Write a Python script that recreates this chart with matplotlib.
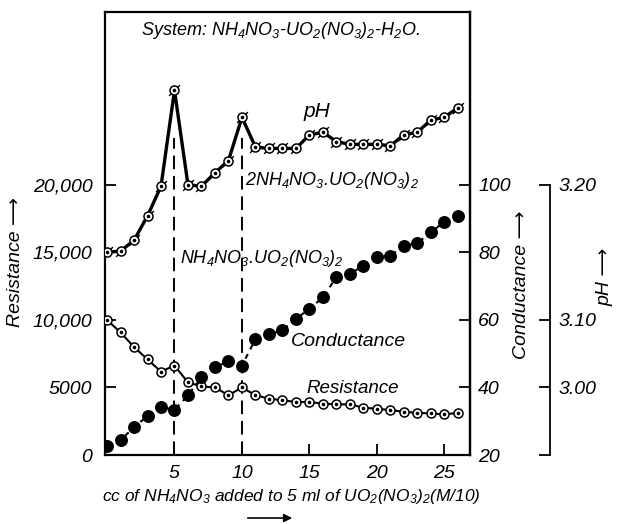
import numpy as np
import matplotlib
matplotlib.use('Agg')
import matplotlib.pyplot as plt
from matplotlib import font_manager as fm

# ---------------- data ----------------
x_cc = list(range(27))
resistance = [10000, 9075, 8000, 7075, 6175, 6625, 5375, 5075, 5000, 4425,
              5000, 4425, 4175, 4050, 3925, 3925, 3800, 3750, 3750, 3500,
              3425, 3325, 3200, 3125, 3075, 3000, 3125]
conductance = [22.7, 24.3, 28.3, 31.5, 34.3, 33.3, 37.7, 43.0, 46.0, 47.7,
               46.5, 54.3, 55.7, 57.0, 60.3, 63.3, 66.7, 72.7, 73.7, 76.0,
               78.5, 79.0, 82.0, 82.7, 86.0, 89.0, 90.7]
ph = [3.150, 3.151, 3.159, 3.177, 3.199, 3.270, 3.200, 3.199, 3.209, 3.218,
      3.250, 3.228, 3.227, 3.227, 3.227, 3.237, 3.239, 3.232, 3.230, 3.230,
      3.230, 3.229, 3.237, 3.239, 3.248, 3.250, 3.257]
compound_x = [5, 10]

x_ticks = [5, 10, 15, 20, 25]
res_ticks = [0, 5000, 10000, 15000, 20000]
res_labels = ['0', '5000', '10,000', '15,000', '20,000']
cond_ticks = [20, 40, 60, 80, 100]
cond_labels = ['20', '40', '60', '80', '100']
ph_ticks = [2.90, 3.00, 3.10, 3.20]
ph_labels = ['', '3.00', '3.10', '3.20']

# ---------------- fonts ----------------
def pick_font(cands):
    for c in cands:
        try:
            fm.findfont(fm.FontProperties(family=c), fallback_to_default=False)
            return c
        except Exception:
            pass
    return 'DejaVu Sans'

FONT = pick_font(['Liberation Sans Narrow', 'DejaVu Sans Condensed', 'Liberation Sans'])
plt.rcParams['font.family'] = [FONT, 'DejaVu Sans']
plt.rcParams['font.style'] = 'italic'
plt.rcParams['mathtext.fontset'] = 'custom'
plt.rcParams['mathtext.rm'] = FONT + ':italic'
plt.rcParams['mathtext.it'] = FONT + ':italic'
FS = 14

# ---------------- figure ----------------
fig = plt.figure(figsize=(6.18, 5.24), dpi=100)
ax = fig.add_axes([105/618, 1-455/524, 365/618, 443/524])
ax.set_xlim(-0.15, 26.9)
ax.set_ylim(0, 32800)

# pH scale (piecewise, as drawn on the original)
def ph_fwd(p):
    p = np.asarray(p, dtype=float)
    return np.where(p >= 3.10, 60 + 400*(p-3.10), 60 + 200*(p-3.10))

def ph_inv(u):
    u = np.asarray(u, dtype=float)
    return np.where(u >= 60, 3.10 + (u-60)/400, 3.10 + (u-60)/200)

ax2 = ax.twinx()
ax2.set_ylim(20, 20 + 32800/250)
ax3 = ax.twinx()
ax3.set_yscale('function', functions=(ph_fwd, ph_inv))
ax3.set_ylim(float(ph_inv(20)), float(ph_inv(20 + 32800/250)))

lw_sp = 1.6
for s in ax.spines.values():
    s.set_linewidth(lw_sp)
for a in (ax2, ax3):
    for k in ('left', 'top', 'bottom'):
        a.spines[k].set_visible(False)
ax2.spines['right'].set_linewidth(lw_sp)
ax3.spines['right'].set_position(('axes', 1 + 80/365))
ax3.spines['right'].set_linewidth(1.3)
ax3.spines['right'].set_bounds(2.90, 3.20)

# ---- compound lines
ax.vlines(compound_x, 0, 23500, colors='black', linestyles=(0, (7, 3.5)), lw=1.4, zorder=1)

# ---- resistance
ax.plot(x_cc, resistance, '-', color='black', lw=1.5, marker='o', ms=6.5,
        mfc='white', mec='black', mew=1.1, zorder=3)
ax.plot(x_cc, resistance, ls='none', marker='o', ms=1.6, color='black', zorder=4)

# ---- conductance
ax2.plot(x_cc, conductance, color='black', lw=1.5, ls=(0, (2.5, 2.5)),
         marker='o', ms=8.3, mfc='black', mec='black', zorder=3)

# ---- pH
ax3.plot(x_cc, ph, '-', color='black', lw=2.4, zorder=2)
ax3.plot(x_cc, ph, ls='none', marker=(2, 0, -45), ms=11, mew=1.0, color='black', zorder=3)
ax3.plot(x_cc, ph, ls='none', marker='o', ms=6.5, mfc='white', mec='black', mew=1.1, zorder=4)
ax3.plot(x_cc, ph, ls='none', marker='o', ms=1.6, color='black', zorder=5)

# ---- ticks
ax.set_xticks(x_ticks)
ax.set_xticklabels([str(v) for v in x_ticks], fontsize=FS)
ax.set_yticks(res_ticks)
ax.set_yticklabels(res_labels, fontsize=FS)
ax.tick_params(axis='both', direction='in', length=8, width=1.3, pad=7)
ax.tick_params(axis='y', right=False, pad=9)
ax2.set_yticks(cond_ticks)
ax2.set_yticklabels(cond_labels, fontsize=FS)
ax2.tick_params(axis='y', direction='in', length=8, width=1.3, pad=6)
ax3.yaxis.set_minor_locator(matplotlib.ticker.NullLocator())
ax3.set_yticks(ph_ticks)
ax3.set_yticklabels(ph_labels, fontsize=FS)
ax3.tick_params(axis='y', which='both', direction='in', length=8, width=1.3, pad=6)
ax3.yaxis.set_minor_locator(matplotlib.ticker.NullLocator())

# ---- texts
ax.text(0.48, 0.958, r'System: NH$_4$NO$_3$-UO$_2$(NO$_3$)$_2$-H$_2$O.', transform=ax.transAxes,
        ha='center', va='center', fontsize=13)
ax.text(15.55, 25400, 'pH', ha='center', va='center', fontsize=FS+1)
ax.text(10.2, 20300, r'2NH$_4$NO$_3$.UO$_2$(NO$_3$)$_2$', ha='left', va='center', fontsize=13)
ax.text(5.4, 14550, r'NH$_4$NO$_3$.UO$_2$(NO$_3$)$_2$', ha='left', va='center', fontsize=13)
ax.text(13.6, 8400, 'Conductance', ha='left', va='center', fontsize=FS)
ax.text(14.8, 4900, 'Resistance', ha='left', va='center', fontsize=13.5)

fig.text(16/618, 1-262/524, 'Resistance \u27f6', rotation=90, ha='center', va='center', fontsize=FS)
fig.text(522/618, 1-285/524, 'Conductance \u27f6', rotation=90, ha='center', va='center', fontsize=FS)
fig.text(605/618, 1-277/524, 'pH \u27f6', rotation=90, ha='center', va='center', fontsize=FS)
fig.text(291/618, 1-497/524, r'cc of NH$_4$NO$_3$ added to 5 ml of UO$_2$(NO$_3$)$_2$(M/10)',
         ha='center', va='center', fontsize=12.5)
fig.patches.append(matplotlib.patches.FancyArrowPatch(
    (245/618, 1-518/524), (295/618, 1-518/524), transform=fig.transFigure,
    arrowstyle='-|>', mutation_scale=12, color='black', lw=1.2))

fig.savefig('out.png', dpi=100)
